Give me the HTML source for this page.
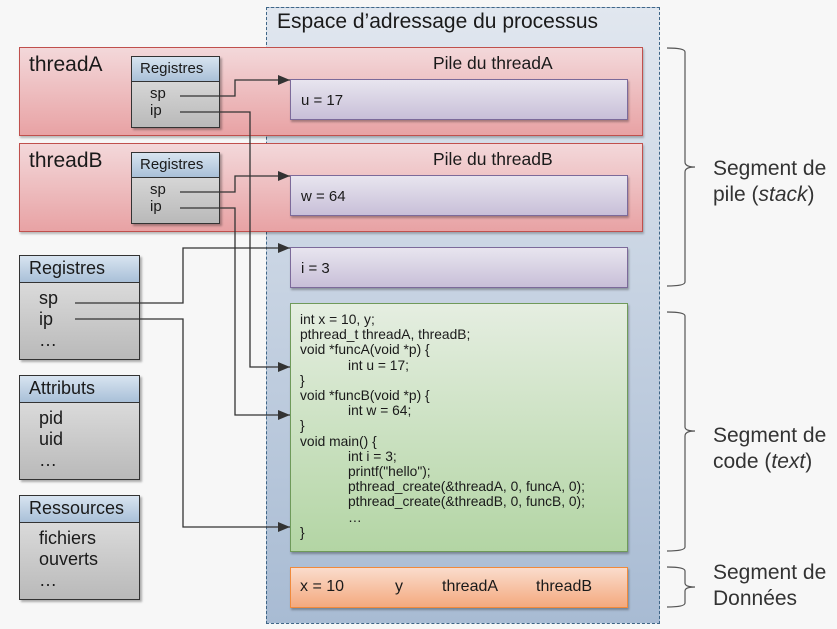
<!DOCTYPE html>
<html><head><meta charset="utf-8"><style>
body{margin:0;width:837px;height:629px;background:#f7f7f7;position:relative;overflow:hidden;font-family:"Liberation Sans",sans-serif;color:#1a1a1a}
.a{position:absolute;box-sizing:border-box}
.proc{left:266px;top:7px;width:394px;height:617px;border:1.5px dashed #3f6687;background:linear-gradient(#e1e7ef,#a8bbd3)}
.thr{left:19px;width:624px;height:89px;border:1px solid #c0504d;background:linear-gradient(#f3d8da,#e8a2a4);box-shadow:1px 2px 2px rgba(0,0,0,.25)}
.pur{left:290px;width:338px;height:41px;border:1px solid #7c6a9a;background:linear-gradient(#e8e5ef,#c8bfd8);box-shadow:1px 2px 2px rgba(0,0,0,.3);font-size:15px;padding:12px 0 0 10px}
.reg{border:1.5px solid #333;background:linear-gradient(#e6e6e6,#b9b9b9);box-shadow:2px 2px 2px rgba(0,0,0,.3)}
.hd{position:absolute;left:0;right:0;top:0;border-bottom:1.5px solid #333;background:linear-gradient(#d8e4f0,#a9c0d8)}
.t{position:absolute;white-space:nowrap}
</style></head><body>
<div class="a proc"></div>
<div class="t" style="left:277px;top:10px;font-size:21px">Espace d’adressage du processus</div>

<div class="a thr" style="top:47px"></div>
<div class="a thr" style="top:143px"></div>
<div class="t" style="left:29px;top:53px;font-size:21px">threadA</div>
<div class="t" style="left:29px;top:149px;font-size:21px">threadB</div>
<div class="t" style="left:433px;top:53px;font-size:17.5px">Pile du threadA</div>
<div class="t" style="left:433px;top:149px;font-size:17.5px">Pile du threadB</div>

<div class="a reg" style="left:131px;top:56px;width:89px;height:72px"><div class="hd" style="height:24px"><span class="t" style="left:8px;top:3px;font-size:15px">Registres</span></div>
<span class="t" style="left:18px;top:28px;font-size:15px;line-height:17px">sp<br>ip</span></div>
<div class="a reg" style="left:131px;top:152px;width:89px;height:72px"><div class="hd" style="height:24px"><span class="t" style="left:8px;top:3px;font-size:15px">Registres</span></div>
<span class="t" style="left:18px;top:28px;font-size:15px;line-height:17px">sp<br>ip</span></div>

<div class="a pur" style="top:79px">u = 17</div>
<div class="a pur" style="top:175px">w = 64</div>
<div class="a pur" style="top:247px">i = 3</div>

<div class="a" style="left:290px;top:303px;width:338px;height:249px;border:1px solid #6f9a5a;background:linear-gradient(#e5eee1,#b3d5a4);box-shadow:1px 2px 2px rgba(0,0,0,.3)"></div>
<div class="t" style="left:300px;top:312px;font-size:13.8px;line-height:15.2px">int x = 10, y;<br>pthread_t threadA, threadB;<br>void *funcA(void *p) {<br><span style="padding-left:48px">int u = 17;</span><br>}<br>void *funcB(void *p) {<br><span style="padding-left:48px">int w = 64;</span><br>}<br>void main() {<br><span style="padding-left:48px">int i = 3;</span><br><span style="padding-left:48px">printf("hello");</span><br><span style="padding-left:48px">pthread_create(&amp;threadA, 0, funcA, 0);</span><br><span style="padding-left:48px">pthread_create(&amp;threadB, 0, funcB, 0);</span><br><span style="padding-left:48px">…</span><br>}</div>

<div class="a" style="left:290px;top:567px;width:338px;height:41px;border:1.5px solid #f08a3c;background:linear-gradient(#fadccc,#f4a97e);box-shadow:1px 2px 2px rgba(0,0,0,.3)"></div>
<div class="t" style="left:300px;top:578px;font-size:16px">x = 10</div>
<div class="t" style="left:395px;top:578px;font-size:16px">y</div>
<div class="t" style="left:442px;top:578px;font-size:16px">threadA</div>
<div class="t" style="left:536px;top:578px;font-size:16px">threadB</div>

<div class="a reg" style="left:19px;top:255px;width:121px;height:105px"><div class="hd" style="height:26px"><span class="t" style="left:9px;top:2px;font-size:18px">Registres</span></div>
<span class="t" style="left:19px;top:32px;font-size:18px;line-height:21px">sp<br>ip<br>…</span></div>
<div class="a reg" style="left:19px;top:375px;width:121px;height:105px"><div class="hd" style="height:26px"><span class="t" style="left:9px;top:2px;font-size:18px">Attributs</span></div>
<span class="t" style="left:19px;top:32px;font-size:18px;line-height:21px">pid<br>uid<br>…</span></div>
<div class="a reg" style="left:19px;top:495px;width:121px;height:105px"><div class="hd" style="height:26px"><span class="t" style="left:9px;top:2px;font-size:18px">Ressources</span></div>
<span class="t" style="left:19px;top:32px;font-size:18px;line-height:21px">fichiers<br>ouverts<br>…</span></div>

<svg class="a" style="left:0;top:0" width="837" height="629">
<defs><marker id="m" markerWidth="12" markerHeight="10" refX="12" refY="5" orient="auto" markerUnits="userSpaceOnUse"><path d="M0,0L12,5L0,10z" fill="#333"/></marker></defs>
<g fill="none" stroke="#333" stroke-width="1.3">
<path d="M180,96H235V80H290" marker-end="url(#m)"/>
<path d="M180,112H250V367H290" marker-end="url(#m)"/>
<path d="M180,192H235V176H290" marker-end="url(#m)"/>
<path d="M180,208H235V415H290" marker-end="url(#m)"/>
<path d="M75,303H183V248H290" marker-end="url(#m)"/>
<path d="M75,319H183V527H290" marker-end="url(#m)"/>
</g>
<g fill="none" stroke="#555" stroke-width="1.2">
<path d="M667,48Q685,48 685,52V162Q685,167 695,167Q685,167 685,172V282Q685,286 667,286"/>
<path d="M667,312Q685,312 685,316V427Q685,431 695,431Q685,431 685,436V547Q685,551 667,551"/>
<path d="M667,567Q685,567 685,571V583Q685,587 695,587Q685,587 685,591V603Q685,607 667,607"/>
</g>
</svg>
<div class="t" style="left:713px;top:156px;font-size:21px;line-height:26px;color:#333">Segment de<br>pile (<i>stack</i>)</div>
<div class="t" style="left:713px;top:423px;font-size:21px;line-height:26px;color:#333">Segment de<br>code (<i>text</i>)</div>
<div class="t" style="left:713px;top:560px;font-size:21px;line-height:26px;color:#333">Segment de<br>Données</div>
</body></html>
